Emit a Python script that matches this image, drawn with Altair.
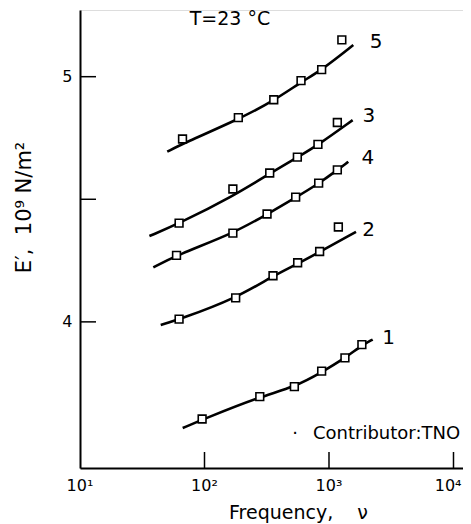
import altair as alt
import pandas as pd

# measured points (frequency, E' in 1e9 N/m^2)
f1 = [95.7, 278, 527, 873, 1343, 1837]
e1 = [3.604, 3.695, 3.736, 3.799, 3.853, 3.907]
f2 = [62.5, 178, 355, 560, 841, 1189]
e2 = [4.011, 4.098, 4.188, 4.241, 4.287, 4.387]
f3 = [62.5, 169, 334, 557, 815, 1167]
e3 = [4.403, 4.542, 4.607, 4.672, 4.724, 4.813]
f4 = [59.6, 169, 318, 540, 826, 1167]
e4 = [4.271, 4.362, 4.440, 4.509, 4.566, 4.620]
f5 = [66.6, 187, 360, 596, 873, 1268]
e5 = [4.746, 4.833, 4.906, 4.984, 5.029, 5.150]

# fitted curves
cf1 = [66.8, 96.8, 275, 533, 883, 1346, 1849, 2244]
ce1 = [3.567, 3.602, 3.694, 3.735, 3.796, 3.853, 3.905, 3.928]
cf2 = [44.5, 62.8, 179, 353, 566, 847, 1648]
ce2 = [3.987, 4.010, 4.096, 4.187, 4.238, 4.286, 4.367]
cf3 = [36.1, 62.8, 170, 336, 556, 820, 1549]
ce3 = [4.350, 4.402, 4.513, 4.606, 4.671, 4.722, 4.823]
cf4 = [38.8, 59.8, 170, 316, 543, 832, 1166, 1429]
ce4 = [4.222, 4.272, 4.361, 4.438, 4.508, 4.565, 4.619, 4.653]
cf5 = [50.2, 67.6, 187, 361, 604, 873, 1567]
ce5 = [4.694, 4.728, 4.826, 4.902, 4.980, 5.027, 5.129]

# curve labels
lab_text = ["1", "2", "3", "4", "5"]
lab_f = [3006, 2076, 2089, 2051, 2393]
lab_e = [3.935, 4.376, 4.838, 4.668, 5.140]

x_ticks = [10, 100, 1000, 10000]
x_tick_labels = ["10\u00b9", "10\u00b2", "10\u00b3", "10\u2074"]
y_ticks = [4, 4.5, 5]

pts = pd.concat([
    pd.DataFrame({"f": f, "E": e, "s": s})
    for f, e, s in [(f1, e1, "1"), (f2, e2, "2"), (f3, e3, "3"), (f4, e4, "4"), (f5, e5, "5")]
])
crv = pd.concat([
    pd.DataFrame({"f": f, "E": e, "s": s})
    for f, e, s in [(cf1, ce1, "1"), (cf2, ce2, "2"), (cf3, ce3, "3"), (cf4, ce4, "4"), (cf5, ce5, "5")]
])
labs = pd.DataFrame({"t": lab_text, "f": lab_f, "E": lab_e})
xl = pd.DataFrame({"v": x_ticks, "t": x_tick_labels})

W, H = 383, 458
xs = alt.Scale(type="log", domain=[10, 11922])
ys = alt.Scale(domain=[3.404, 5.272], nice=False, zero=False)

NB = "\u00a0"
xaxis = alt.Axis(values=x_ticks, labels=False, ticks=False, grid=False,
                 domainColor="black", domainWidth=2,
                 title="Frequency," + NB * 4 + "\u03bd", titleFontSize=19, titleFontWeight="normal",
                 titleColor="black", titleX=218, titleY=50, titleBaseline="alphabetic",
                 titleAlign="center")
yaxis = alt.Axis(values=y_ticks, labelExpr="datum.value == 4.5 ? '' : datum.value", ticks=False,
                 grid=False, domainColor="black", domainWidth=2, labelFontSize=16,
                 labelColor="black", labelPadding=8,
                 title="E\u2032," + NB * 2 + "10\u2079 N/m\u00b2", titleFontSize=21,
                 titleFontWeight="normal",
                 titleColor="black", titleX=-56, titleY=197, titleAngle=270,
                 titleAlign="center", titleBaseline="middle")

lines = alt.Chart(crv).mark_line(color="black", strokeWidth=2.6, interpolate="basis").encode(
    x=alt.X("f:Q", scale=xs, axis=xaxis),
    y=alt.Y("E:Q", scale=ys, axis=yaxis),
    detail="s:N",
)
points = alt.Chart(pts).mark_point(shape="square", size=60, filled=True, fill="white",
                                   stroke="black", strokeWidth=1.6, opacity=1).encode(
    x=alt.X("f:Q", scale=xs), y=alt.Y("E:Q", scale=ys))
labels = alt.Chart(labs).mark_text(fontSize=20, color="black", align="center",
                                   baseline="middle").encode(
    x=alt.X("f:Q", scale=xs), y=alt.Y("E:Q", scale=ys), text="t:N")

xlab_mid = alt.Chart(xl).transform_filter("datum.v < 10000").mark_text(
    fontSize=16, color="black", align="center", baseline="top").encode(
    x=alt.X("v:Q", scale=xs), y=alt.value(H + 10), text="t:N")
xlab_end = alt.Chart(xl).transform_filter("datum.v >= 10000").mark_text(
    fontSize=16, color="black", align="right", baseline="top", dx=8).encode(
    x=alt.X("v:Q", scale=xs), y=alt.value(H + 10), text="t:N")

xt = alt.Chart(pd.DataFrame({"v": x_ticks[1:]})).mark_rule(color="black", strokeWidth=1.5).encode(
    x=alt.X("v:Q", scale=xs), y=alt.value(H), y2=alt.value(H - 16))
yt = alt.Chart(pd.DataFrame({"v": y_ticks})).mark_rule(color="black", strokeWidth=1.5).encode(
    y=alt.Y("v:Q", scale=ys), x=alt.value(0), x2=alt.value(16))

title = alt.Chart(pd.DataFrame({"t": ["T=23 \u00b0C"]})).mark_text(
    fontSize=19, color="black", align="center", baseline="middle").encode(
    text="t:N", x=alt.value(150), y=alt.value(9))
bullet = alt.Chart(pd.DataFrame({"t": ["\u00b7"]})).mark_text(
    fontSize=18, color="black", align="center", baseline="middle").encode(
    text="t:N", x=alt.value(215), y=alt.value(424))
contrib = alt.Chart(pd.DataFrame({"t": ["Contributor:TNO"]})).mark_text(
    fontSize=18, color="black", align="left", baseline="middle").encode(
    text="t:N", x=alt.value(233), y=alt.value(424))

chart = alt.layer(lines, points, labels, xlab_mid, xlab_end, xt, yt, title, bullet,
                  contrib).properties(
    width=W, height=H,
    autosize=alt.AutoSizeParams(type="none"),
    padding={"left": 72, "top": 2, "right": 0, "bottom": 56},
).configure_view(stroke=None).configure(font="DejaVu Sans")

chart.save("out.html", embed_options={"renderer": "svg", "actions": False})
